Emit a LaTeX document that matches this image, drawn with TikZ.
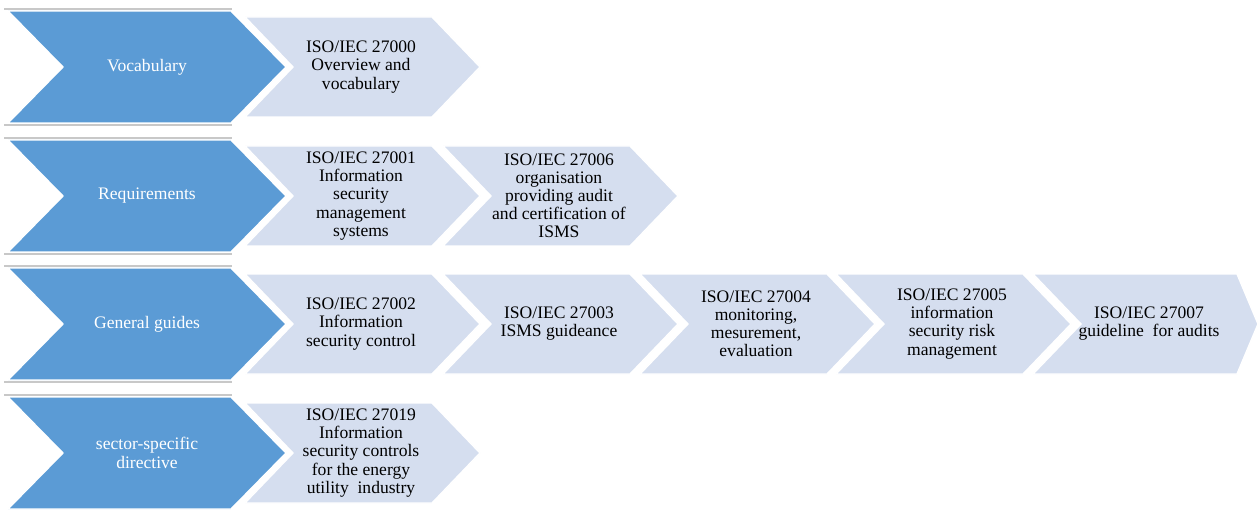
\documentclass[tikz,border=0pt]{standalone}
\usepackage{fontspec}
\setmainfont{Liberation Serif}
\usepackage{tikz}
\usetikzlibrary{positioning}

\definecolor{catblue}{RGB}{91,155,213}
\definecolor{stdblue}{RGB}{213,222,239}
\definecolor{linegray}{RGB}{200,200,200}

\tikzset{
  rowline/.style={draw=linegray, line width=0.6pt},
  catfill/.style={fill=catblue, draw=white, line width=0.8pt},
  stdfill/.style={fill=stdblue, draw=white, line width=0.8pt},
  cattext/.style={text=white, align=center, inner sep=0pt, font=\fontsize{10}{10.8}\selectfont},
  stdtext/.style={text=black, align=center, inner sep=0pt, font=\fontsize{10}{10.3}\selectfont}
}

\begin{document}
\begin{tikzpicture}[x=0.02cm, y=-0.02cm]
  \useasboundingbox (0,0) rectangle (1259,510);

  % Draw the category chevrons
  \foreach \cy/\name/\txt in {67/voc/Vocabulary, 196/req/Requirements, 324/gen/General guides, 453/sec/{sector-specific\\directive}} {
    \draw[rowline] (4,\cy-58) -- (232,\cy-58) (4,\cy+58) -- (232,\cy+58);
    \filldraw[catfill] (8,\cy-56) -- (231,\cy-56) -- (286,\cy) -- (231,\cy+56) -- (8,\cy+56) -- (63,\cy) -- cycle;
    \node[cattext] (\name) at (147,\cy) {\txt};
  }

  % Draw the standard chevrons
  \foreach \cy/\lx/\bw/\tip/\id/\txt in {
      67/245/187/235/27000/{Overview and\\vocabulary},
      196/245/187/235/27001/{Information\\security\\management\\systems},
      196/443/187/235/27006/{organisation\\providing audit\\and certification of\\ISMS},
      324/245/187/235/27002/{Information\\security control},
      324/443/187/235/27003/{ISMS guideance},
      324/640/187/235/27004/{monitoring,\\mesurement,\\evaluation},
      324/836/187/235/27005/{information\\security risk\\management},
      324/1033/204/225/27007/{guideline \ for audits},
      453/245/187/235/27019/{Information\\security controls\\for the energy\\utility \ industry}} {
    \filldraw[stdfill] (\lx,\cy-50) -- (\lx+\bw,\cy-50) -- (\lx+\tip,\cy) -- (\lx+\bw,\cy+50) -- (\lx,\cy+50) -- (\lx+48,\cy) -- cycle;
    \node[stdtext] (iso\id) at (\lx+116,\cy) {ISO/IEC \id\\\txt};
  }
\end{tikzpicture}
\end{document}
